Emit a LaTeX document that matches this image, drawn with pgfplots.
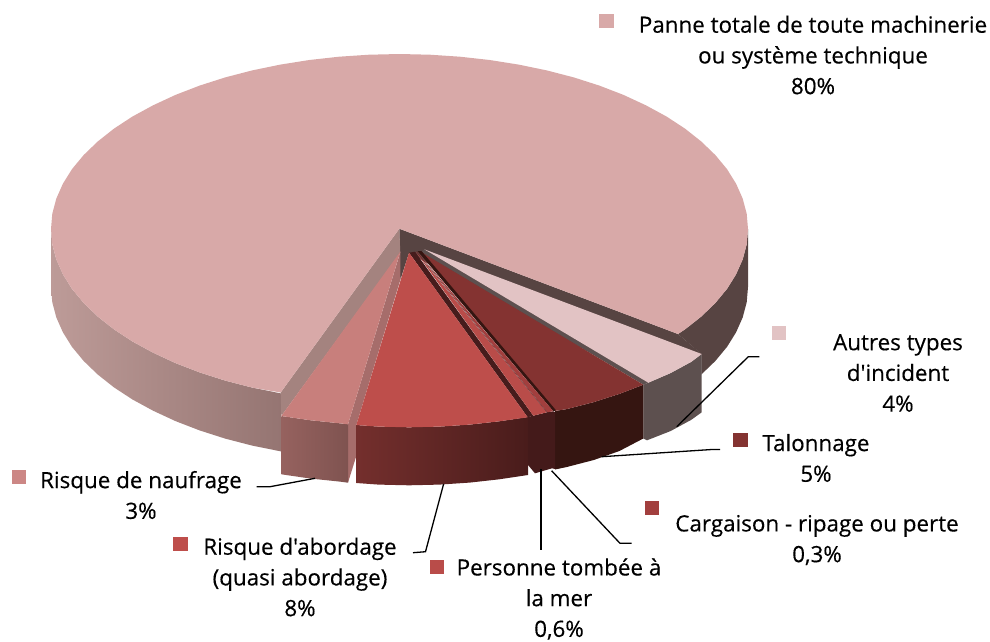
\documentclass[border=0pt]{standalone}
\usepackage{pgfplots}
\pgfplotsset{compat=1.18}
\usepackage{fontspec}
\setmainfont{Open Sans}[Ligatures=TeXOff,FakeBold=0.35]
\definecolor{mainTop}{HTML}{D8A9A8}
\definecolor{autresTop}{HTML}{E2C3C4}
\definecolor{talTop}{HTML}{843331}
\definecolor{abTop}{HTML}{BE4E4B}
\definecolor{perTop}{HTML}{B94C49}
\definecolor{carTop}{HTML}{A23F3E}
\definecolor{nauTop}{HTML}{C87F7C}
\definecolor{nauKey}{RGB}{204,135,133}
\definecolor{mainDark}{HTML}{574442}
\definecolor{greyWall}{HTML}{5D504F}
\definecolor{mainWallL}{RGB}{189,155,152}
\definecolor{mainWallR}{RGB}{149,117,114}
\definecolor{mainCut}{RGB}{164,131,127}
\definecolor{talWall}{RGB}{53,21,17}
\definecolor{nauCut}{RGB}{166,109,107}
\definecolor{nauWallL}{RGB}{150,98,95}
\definecolor{nauWallR}{RGB}{127,83,80}
\definecolor{perWall}{RGB}{68,26,26}
\definecolor{abWallL}{RGB}{116,47,45}
\definecolor{abWallR}{RGB}{73,28,27}
\definecolor{abCut}{RGB}{70,28,28}
\definecolor{hair}{RGB}{110,42,42}
\tikzset{lab/.style={align=center,anchor=center,inner sep=0pt,font=\fontsize{22.4}{30.7}\selectfont}}
\pgfplotsset{key/.style={only marks,mark=square*,mark size=6.7pt,mark options={draw=#1,fill=#1,line width=0pt},forget plot}}
\begin{document}
\begin{tikzpicture}
\path[use as bounding box] (0,0) rectangle (990pt,641pt);
\begin{axis}[at={(0,0)},anchor=south west,width=990pt,height=641pt,scale only axis,
  xmin=0,xmax=990,ymin=0,ymax=641,y dir=reverse,hide axis,clip=false]
% main slice: outer wall, left
\addplot[draw=none,left color=mainWallL,right color=mainWallR,forget plot] coordinates {
(51,229)(52.3,244.3)(56.3,259.4)(62.9,274.3)(72.0,288.9)(83.7,303.0)(97.7,316.5)(114.0,329.4)(132.5,341.5)(153.1,352.7)(175.5,363.1)(199.6,372.4)(225.2,380.6)(252.2,387.6)(281,393.4)
(281,451.4)(252.2,445.6)(225.2,438.6)(199.6,430.4)(175.5,421.1)(153.1,410.7)(132.5,399.5)(114,387.4)(97.7,374.5)(83.7,361)(72,346.9)(62.9,332.3)(56.3,317.4)(52.3,302.3)(51,287)} -- cycle;
% main slice: outer wall, right
\addplot[draw=none,fill=mainDark,forget plot] coordinates {
(748,229)(748,287)(746.7,302.3)(742.7,317.4)(736.1,332.3)(727,346.9)(715.3,361)(701.3,374.5)(701.3,354)(678,334)(685.0,329.4)(701.3,316.5)(715.3,303.0)(727.0,288.9)(736.1,274.3)(742.7,259.4)(746.7,244.3)} -- cycle;
% main slice: cut faces
\addplot[draw=none,fill=mainDark,forget plot] coordinates {
(399.3,228.7)(678,334)(701.7,354)(645,383)(409,253)(400.3,280)} -- cycle;
\addplot[draw=none,fill=mainCut,forget plot] coordinates {
(399.3,228.7)(400.3,253)(281.3,416)(280.7,392.5)} -- cycle;
% main slice: top
\addplot[draw=none,fill=mainTop,forget plot] coordinates {
(399.3,228.7)(678,334)(685.0,329.4)(701.3,316.5)(715.3,303.0)(727.0,288.9)(736.1,274.3)(742.7,259.4)(746.7,244.3)(748,229)
(746.7,213.7)(742.7,198.6)(736.1,183.7)(727.0,169.1)(715.3,155.0)(701.3,141.5)(685.0,128.6)(666.5,116.5)(645.9,105.3)(623.5,94.9)(599.4,85.6)(573.8,77.4)(546.8,70.4)(518.7,64.6)(489.7,60.0)(460.0,56.7)(429.9,54.7)(399.5,54)
(369.1,54.7)(339.0,56.7)(309.3,60.0)(280.3,64.6)(252.2,70.4)(225.2,77.4)(199.6,85.6)(175.5,94.9)(153.1,105.3)(132.5,116.5)(114.0,128.6)(97.7,141.5)(83.7,155.0)(72.0,169.1)(62.9,183.7)(56.3,198.6)(52.3,213.7)(51,229)
(52.3,244.3)(56.3,259.4)(62.9,274.3)(72.0,288.9)(83.7,303.0)(97.7,316.5)(114.0,329.4)(132.5,341.5)(153.1,352.7)(175.5,363.1)(199.6,372.4)(225.2,380.6)(252.2,387.6)(280.7,392.5)} -- cycle;
% Autres
\addplot[draw=none,fill=greyWall,forget plot] coordinates {
(643.3,384.7)(648.3,382.7)(670.7,373)(691.3,361.8)(701.7,354)(701.7,412.3)(691.3,419.8)(670.7,431)(647,440.3)(643.3,438.5)} -- cycle;
\addplot[draw=none,fill=greyWall,forget plot] coordinates {(424.3,249.3)(648.3,382.7)(643.3,384.7)(421,252)} -- cycle;
\addplot[draw=none,fill=autresTop,forget plot] coordinates {(424.3,249.3)(701.7,354)(691.3,361.8)(670.7,373)(648.3,382.7)} -- cycle;
% Talonnage
\addplot[draw=none,fill=talWall,forget plot] coordinates {
(555,411)(566.8,409.1)(593.8,402.1)(619.4,393.9)(643.3,384.7)(643.3,438.5)(619.4,451)(593.8,460)(566.8,467)(555,469.5)} -- cycle;
\addplot[draw=none,fill=talTop,forget plot] coordinates {(421,252)(643.3,384.7)(619.4,393.9)(593.8,402.1)(566.8,409.1)(555.5,410.8)} -- cycle;
\addplot[draw=none,fill=talWall,forget plot] coordinates {(417.5,251)(421.5,251)(556,410.3)(553.3,411.3)} -- cycle;
% Naufrage
\addplot[draw=none,fill=nauCut,forget plot] coordinates {(400.3,252)(348,424.3)(348,482.7)(356.3,456)(356.3,425)(400.3,280)} -- cycle;
\addplot[draw=none,left color=nauWallL,right color=nauWallR,forget plot] coordinates {
(281.3,416)(310.1,420.2)(339.8,423.3)(348,424.3)(348,482.7)(339.8,481.6)(310.1,478.5)(281.3,474.3)} -- cycle;
\addplot[draw=none,fill=nauTop,forget plot] coordinates {(400.3,251.7)(348,424.3)(339.8,423.3)(310.1,420.2)(281.3,416)} -- cycle;
% Personne wall
\addplot[draw=none,fill=perWall,forget plot] coordinates {
(528,417)(533.3,415.7)(546.7,412.3)(553.3,411.3)(555,412)(555,469)(552,468.3)(535,473.3)(528,465)} -- cycle;
% Abordage
\addplot[draw=none,left color=abWallL,right color=abWallR,forget plot] coordinates {
(356.3,425)(378.6,426.6)(409,427.3)(439.4,426.6)(469.5,424.6)(499.2,421.3)(528,417)
(528,475)(499.2,479.3)(469.5,482.6)(439.4,484.6)(409,485.3)(378.6,484.6)(356.3,483)} -- cycle;
\addplot[draw=none,fill=abCut,forget plot] coordinates {(409,252.7)(415,251.7)(533.3,415.7)(527.7,417.3)} -- cycle;
\addplot[draw=none,fill=abTop,forget plot] coordinates {(409,252.7)(527.7,417.3)(499.2,421.3)(469.5,424.6)(439.4,426.6)(409,427.3)(378.6,426.6)(356.3,425)} -- cycle;
% Personne, Cargaison
\addplot[draw=none,fill=perTop,forget plot] coordinates {(415.7,251.7)(546.7,412.3)(533.3,415.7)} -- cycle;
\addplot[draw=none,fill=carTop,forget plot] coordinates {(417.3,251.7)(553.3,411.2)(547.3,412.3)} -- cycle;
\addplot[color=hair,line width=.5pt,forget plot] coordinates {(416.5,251.7)(547,412.3)};
% leader lines
\addplot[black,line width=1.3pt,forget plot] coordinates {(676.7,426.7)(748.3,356.7)(759.3,356.7)};
\addplot[black,line width=1.3pt,forget plot] coordinates {(601.7,456.7)(711.7,449.5)(720,449.5)};
\addplot[black,line width=1.3pt,forget plot] coordinates {(551.6,470.7)(620,543.3)(631.6,543.3)};
\addplot[black,line width=1.3pt,forget plot] coordinates {(541,469.3)(541,550)};
\addplot[black,line width=1.3pt,forget plot] coordinates {(443.6,484)(425.5,551.7)(413,552.7)};
\addplot[black,line width=1.3pt,forget plot] coordinates {(315,478.3)(270,486.7)(256.7,486.7)};
% legend keys
\addplot[key=mainTop] coordinates {(606.3,20.7)};
\addplot[key=autresTop] coordinates {(779,333)};
\addplot[key=talTop] coordinates {(740.3,440)};
\addplot[key=carTop] coordinates {(651.8,507.8)};
\addplot[key=perTop] coordinates {(437.1,567)};
\addplot[key=abTop] coordinates {(180.5,543.7)};
\addplot[key=nauKey] coordinates {(19,477.2)};
% labels
\node[lab] at (axis cs:813,55) {Panne totale de toute machinerie\\ou système technique\\80\%};
\node[lab] at (axis cs:898,373) {Autres types\\d'incident\\4\%};
\node[lab] at (axis cs:816,458) {Talonnage\\5\%};
\node[lab] at (axis cs:817,540) {Cargaison - ripage ou perte\\0,3\%};
\node[lab] at (axis cs:559,599) {Personne tombée à\\la mer\\0,6\%};
\node[lab] at (axis cs:300,577) {Risque d'abordage\\(quasi abordage)\\8\%};
\node[lab] at (axis cs:141,495) {Risque de naufrage\\3\%};
\end{axis}
\end{tikzpicture}
\end{document}
